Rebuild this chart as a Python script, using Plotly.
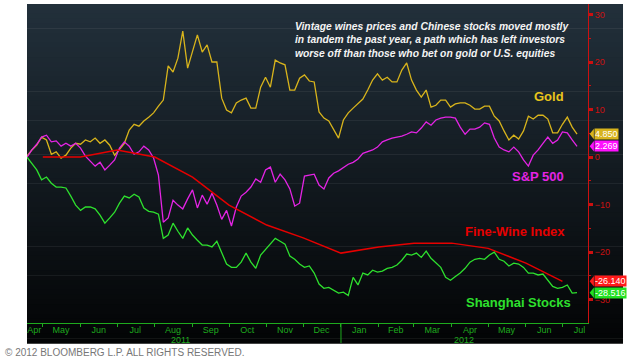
import plotly.graph_objects as go
import pandas as pd

# ---- data ----
dates = pd.date_range("2011-04-18", "2012-07-13", freq="4D")

gold = [0.2, 1.5, 2.5, 4.2, 3.6, 0.6, 1.1, -0.2, 0.4, 1.9,
        2.9, 2.7, 3.6, 3.2, 4.0, 2.9, 3.6, 2.5, 0.4, 1.7,
        2.9, 5.7, 6.9, 6.5, 7.6, 8.4, 9.3, 10.7, 12.0, 19.2,
        17.9, 20.8, 26.5, 18.7, 22.1, 25.7, 22.1, 23.6, 20.0, 20.0,
        12.4, 9.9, 9.3, 11.4, 12.0, 12.4, 10.3, 10.3, 14.7, 16.8,
        14.7, 20.4, 19.8, 19.4, 14.1, 14.1, 16.6, 17.3, 16.0, 15.8,
        9.5, 8.2, 7.6, 5.7, 4.0, 7.8, 9.3, 10.3, 11.2, 12.2,
        14.1, 16.2, 17.5, 16.2, 16.8, 15.8, 15.8, 18.3, 19.8, 16.2,
        14.1, 12.6, 14.1, 10.5, 10.9, 12.0, 12.0, 10.5, 11.2, 11.4,
        11.4, 10.9, 10.1, 10.1, 10.7, 10.7, 8.6, 7.6, 5.5, 3.6,
        4.6, 3.8, 5.5, 8.6, 8.0, 8.8, 8.8, 8.0, 5.1, 5.1,
        6.9, 8.4, 6.3, 4.85]

spx = [0.0, 1.5, 2.7, 4.2, 4.6, 3.2, 3.4, 2.3, 2.9, 2.3,
       2.9, 1.9, 0.2, -0.8, -1.9, -1.1, -2.7, -1.7, -0.6, 1.9,
       3.2, 2.3, 0.6, 1.1, 2.3, 1.5, -0.2, -3.8, -13.7, -12.8,
       -9.1, -10.1, -10.9, -8.8, -6.9, -10.7, -8.0, -9.9, -7.6, -10.1,
       -13.1, -11.2, -14.5, -10.5, -8.2, -7.4, -6.3, -4.6, -5.3, -2.7,
       -2.1, -5.3, -3.6, -4.8, -6.7, -10.3, -9.7, -4.0, -3.8, -3.6,
       -5.9, -6.7, -4.4, -3.4, -2.9, -2.1, -1.5, -1.1, -0.4, 0.8,
       1.1, 1.5, 2.1, 3.2, 3.6, 4.0, 4.2, 4.4, 4.8, 5.3,
       5.1, 6.1, 7.4, 6.7, 7.8, 8.2, 8.4, 8.4, 8.2, 6.3,
       4.8, 5.9, 5.9, 6.3, 7.2, 6.9, 4.0, 2.1, 1.5, 1.1,
       2.1, 1.1, -0.6, -1.9, 0.4, 1.5, 2.9, 4.2, 2.9, 3.6,
       5.3, 5.1, 3.6, 2.269]

shanghai = [0.0, -1.3, -2.7, -4.8, -4.2, -5.5, -6.3, -6.3, -6.5, -8.2,
            -10.1, -11.2, -10.5, -10.5, -10.9, -12.2, -13.9, -12.8, -11.6, -9.7,
            -8.2, -8.6, -7.8, -8.4, -10.7, -11.4, -11.6, -12.0, -17.1, -16.4,
            -13.9, -15.6, -17.1, -14.9, -16.4, -17.5, -18.5, -18.5, -18.9, -17.7,
            -20.2, -22.5, -23.2, -23.2, -22.1, -20.2, -22.1, -23.4, -20.6, -19.4,
            -18.1, -17.1, -17.7, -18.3, -20.8, -21.5, -22.5, -23.2, -22.9, -24.4,
            -26.7, -27.6, -27.4, -28.0, -28.6, -28.4, -29.1, -25.3, -26.9, -24.4,
            -24.8, -23.8, -24.2, -24.0, -23.4, -23.2, -22.7, -21.7, -20.4, -20.6,
            -20.2, -21.1, -19.8, -21.3, -22.3, -23.2, -25.3, -25.9, -25.1, -24.4,
            -23.4, -22.1, -21.5, -21.3, -21.5, -20.6, -20.0, -21.5, -21.9, -22.9,
            -22.3, -22.5, -23.2, -24.4, -24.4, -24.8, -24.6, -25.9, -27.2, -27.6,
            -27.4, -26.9, -28.6, -28.516]

wine_dates = ["2011-05-01", "2011-06-01", "2011-07-01", "2011-08-01", "2011-09-01",
              "2011-10-01", "2011-11-01", "2011-12-01", "2012-01-01", "2012-02-01",
              "2012-03-01", "2012-04-01", "2012-05-01", "2012-06-01", "2012-07-01"]
wine = [0.0, 0.0, 1.5, 0.0, -4.2, -10.1, -14.3, -17.0, -20.2, -18.9,
        -18.1, -18.1, -19.2, -22.3, -26.14]

month_pos = ["2011-04-24", "2011-05-16", "2011-06-16", "2011-07-16", "2011-08-16",
             "2011-09-16", "2011-10-16", "2011-11-16", "2011-12-16", "2012-01-16",
             "2012-02-15", "2012-03-16", "2012-04-16", "2012-05-16", "2012-06-16",
             "2012-07-15"]
month_lbl = ["Apr", "May", "Jun", "Jul", "Aug", "Sep", "Oct", "Nov", "Dec",
             "Jan", "Feb", "Mar", "Apr", "May", "Jun", "Jul"]
y_ticks = [-30, -20, -10, 0, 10, 20, 30]

C_GOLD = "#d8b41c"
C_SPX = "#e424e4"
C_WINE = "#e60000"
C_SH = "#2ee02e"
AX_GREEN = "#1eaa1e"
AX_RED = "#cc1010"

fig = go.Figure()
fig.add_trace(go.Scatter(x=dates, y=gold, mode="lines", line=dict(color=C_GOLD, width=1.3), name="Gold"))
fig.add_trace(go.Scatter(x=dates, y=spx, mode="lines", line=dict(color=C_SPX, width=1.3), name="S&P 500"))
fig.add_trace(go.Scatter(x=wine_dates, y=wine, mode="lines", line=dict(color=C_WINE, width=1.5), name="Fine-Wine Index"))
fig.add_trace(go.Scatter(x=dates, y=shanghai, mode="lines", line=dict(color=C_SH, width=1.3), name="Shanghai Stocks"))

# gradient background panel
shapes = []
top = (34, 48, 59)
bot = (3, 4, 5)
y_lo, y_hi = -0.0627, 1.0
N = 70
for i in range(N):
    t = i / (N - 1)
    c = tuple(int(round(top[k] * (1 - t) + bot[k] * t)) for k in range(3))
    ya = y_hi - (y_hi - y_lo) * i / N
    yb = y_hi - (y_hi - y_lo) * (i + 1) / N
    shapes.append(dict(type="rect", xref="paper", yref="paper", x0=0, x1=1.0624,
                       y0=yb - 0.002, y1=ya, fillcolor="rgb(%d,%d,%d)" % c,
                       line=dict(width=0), layer="below"))
# year separator
shapes.append(dict(type="line", xref="x", yref="paper", x0="2012-01-01", x1="2012-01-01",
                   y0=-0.0627, y1=0, line=dict(color=AX_GREEN, width=1)))


def lab(x, y, text, color, size=13, xref="paper"):
    return dict(xref=xref, yref="paper", x=x, y=y, xanchor="center", yanchor="middle",
                showarrow=False, text=text, font=dict(family="Arial", size=size, color=color))


annotations = [
    dict(xref="paper", yref="paper", x=0.474, y=0.953, xanchor="left", yanchor="top",
         align="left", showarrow=False,
         text="<b><i>Vintage wines prices and Chinese stocks moved mostly<br>"
              "in tandem the past year, a path which has left investors<br>"
              "worse off than those who bet on gold or U.S. equities</i></b>",
         font=dict(family="Arial", size=10.3, color="#f4f4f4")),
    lab(0.9305, 0.7085, "<b>Gold</b>", "#e8c41c"),
    lab(0.911, 0.4577, "<b>S&P 500</b>", C_SPX),
    lab(0.869, 0.2853, "<b>Fine-Wine Index</b>", C_WINE),
    lab(0.877, 0.0627, "<b>Shanghai Stocks</b>", C_SH),
    lab("2011-08-22", -0.053, "2011", AX_GREEN, size=9, xref="x"),
    lab("2012-04-11", -0.053, "2012", AX_GREEN, size=9, xref="x"),
    dict(xref="paper", yref="paper", x=-0.0428, y=-0.068, xanchor="left", yanchor="top",
         showarrow=False, text="© 2012 BLOOMBERG L.P. ALL RIGHTS RESERVED.",
         font=dict(family="Arial", size=10, color="#777777")),
]

# end-value tags on the right axis
tags = [(gold[-1], "4.850", "#d8b41c"), (spx[-1], "2.269", "#ff10ff"),
        (wine[-1], "-26.140", "#ff1a1a"), (shanghai[-1], "-28.516", "#22e022")]
for val, txt, col in tags:
    annotations.append(dict(xref="paper", yref="y", x=1.010, y=val, xanchor="left", yanchor="middle",
                            showarrow=False, text=txt, bgcolor=col, borderpad=0,
                            font=dict(family="Arial", size=9, color="#ffffff")))
    shapes.append(dict(type="path", xref="paper", yref="y",
                       path="M 1.003,%f L 1.0105,%f L 1.0105,%f Z" % (val, val + 1.1, val - 1.1),
                       fillcolor=col, line=dict(width=0)))

fig.update_layout(
    width=627, height=359,
    margin=dict(l=27, r=39, t=4, b=36, autoexpand=False),
    paper_bgcolor="#ffffff", plot_bgcolor="rgba(0,0,0,0)",
    showlegend=False,
    shapes=shapes, annotations=annotations,
    xaxis=dict(type="date", range=["2011-04-18", "2012-07-22"],
               tickvals=month_pos, ticktext=month_lbl, ticks="", ticklen=0,
               ticklabelstandoff=-2,
               showgrid=False, zeroline=False, showline=True, linecolor=AX_GREEN, linewidth=1,
               tickfont=dict(family="Arial", size=9, color=AX_GREEN),
               minor=dict(dtick="M1", tick0="2011-05-01", ticks="outside", ticklen=3,
                          tickcolor=AX_GREEN, showgrid=False)),
    yaxis=dict(side="right", range=[-34.9, 32.2], tickvals=y_ticks,
               showgrid=False, zeroline=False, showline=True, linecolor=AX_RED, linewidth=1,
               ticks="outside", ticklen=4, tickwidth=3, tickcolor=AX_RED,
               tickfont=dict(family="Arial", size=9, color=AX_RED),
               minor=dict(dtick=5, tick0=0, ticks="outside", ticklen=2, tickwidth=1,
                          tickcolor=AX_RED, showgrid=False)),
)

fig.write_html("out.html", config={"displayModeBar": False},
               post_script="document.body.style.margin='0';document.body.style.overflow='hidden';")
